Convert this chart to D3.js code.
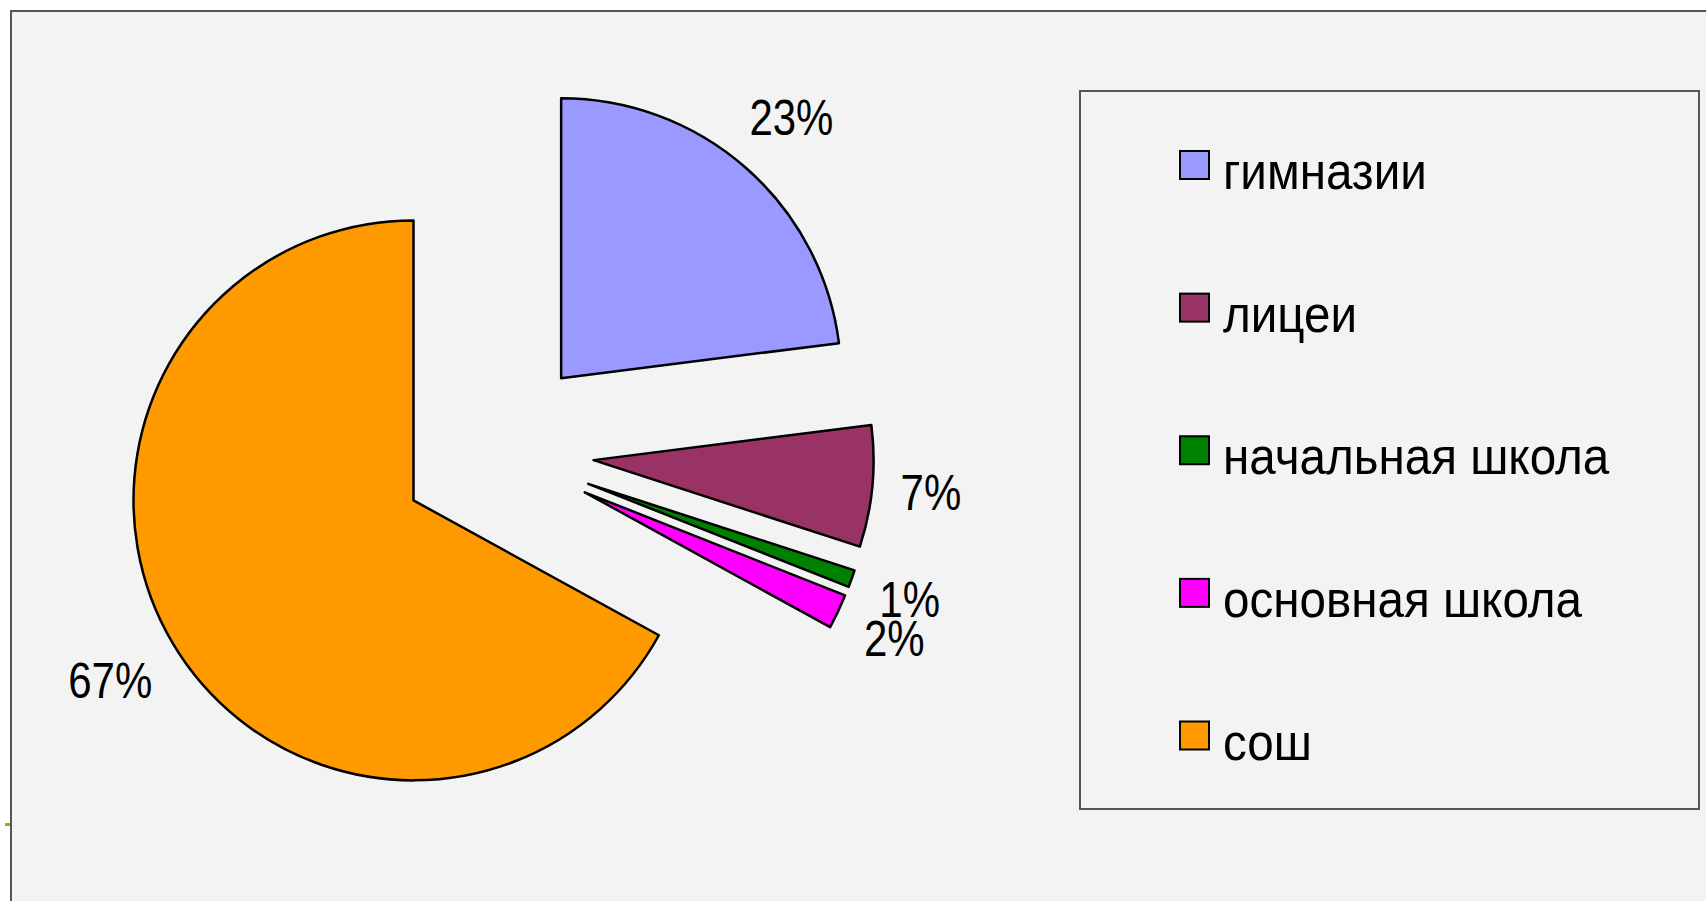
<!DOCTYPE html>
<html>
<head>
<meta charset="utf-8">
<script src="https://cdn.jsdelivr.net/npm/d3@7"></script>
<style>
body { margin: 0; background: #fff; overflow: hidden; }
text { font-family: "Liberation Sans", Arial, sans-serif; fill: #000; }
</style>
</head>
<body>
<svg id="svg" width="1706" height="901"></svg>
<script>
const categories = ["гимназии", "лицеи", "начальная школа", "основная школа", "сош"],
    shares = [23, 7, 1, 2, 67],
    labels = ["23%", "7%", "1%", "2%", "67%"],
    colors = ["#9999ff", "#993366", "#008000", "#ff00ff", "#ff9900"];

const W = 1706,
    H = 901,
    R = 280,
    explode = 97,
    labelGap = 307,
    svg = d3.select("#svg");

// chart area frame (runs off the right and bottom edge)
svg.append("rect").attr("x", 11).attr("y", 11).attr("width", W + 20).attr("height", H + 20)
    .style("fill", "#f3f3f3").style("stroke", "#555").style("stroke-width", 2);
svg.append("rect").attr("x", 5).attr("y", 823).attr("width", 5).attr("height", 3).style("fill", "#cc9900");

const color = d3.scaleOrdinal().domain(categories).range(colors),
    pie = d3.pie().sort(null).value(d => d),
    arcs = pie(shares),
    arc = d3.arc().innerRadius(0).outerRadius(R),
    shift = d3.arc().innerRadius(explode).outerRadius(explode),
    g = svg.append("g").attr("transform", `translate(497, 451)`);

g.selectAll("path.slice").data(arcs).enter().append("path")
    .attr("class", "slice")
    .attr("transform", d => `translate(${shift.centroid(d)})`)
    .attr("d", arc)
    .style("fill", (d, i) => color(categories[i]))
    .style("stroke", "#000")
    .style("stroke-width", 2.5)
    .style("stroke-linejoin", "round");

const sx = 0.84, fs = 50, capH = 0.716 * fs;

g.selectAll("text.pct").data(arcs).enter().append("text")
    .attr("class", "pct")
    .attr("text-anchor", "middle")
    .style("font-size", fs + "px")
    .text((d, i) => labels[i])
    .attr("transform", function (d) {
        // label box sits just outside the slice, like Excel's "outside end"
        const w = this.getComputedTextLength() * sx,
            a = (d.startAngle + d.endAngle) / 2,
            r = explode + labelGap + (w / 2) * Math.abs(Math.sin(a)) + (capH / 2) * Math.abs(Math.cos(a)),
            p = d3.arc().innerRadius(r).outerRadius(r).centroid(d);
        return `translate(${p[0]}, ${p[1] + capH / 2}) scale(${sx}, 1)`;
    });

// legend
const lx = 1080, ly = 91,
    ly2 = d3.scalePoint().domain(categories).range([165, 735.5]),
    legend = svg.append("g");

legend.append("rect").attr("x", lx).attr("y", ly).attr("width", 619).attr("height", 718)
    .style("fill", "none").style("stroke", "#555").style("stroke-width", 2);

const item = legend.selectAll("g.item").data(categories).enter().append("g")
    .attr("class", "item")
    .attr("transform", d => `translate(1180, ${ly2(d)})`);

item.append("rect").attr("x", 0).attr("y", -14).attr("width", 29).attr("height", 28)
    .style("fill", d => color(d)).style("stroke", "#000").style("stroke-width", 2);

item.append("text")
    .attr("transform", "translate(43, 24) scale(0.915, 1)")
    .style("font-size", "52px")
    .text(d => d);
</script>
</body>
</html>
